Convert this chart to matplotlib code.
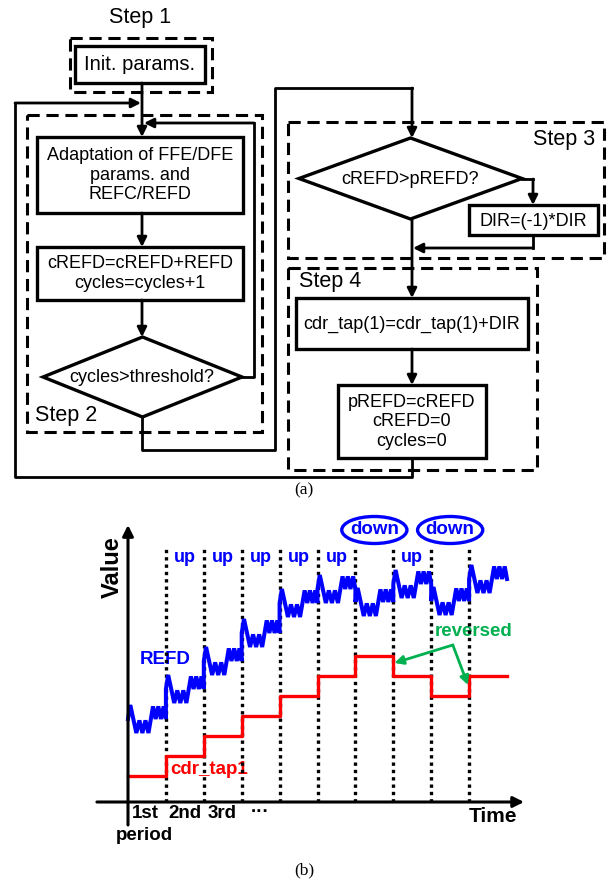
import matplotlib
matplotlib.use('Agg')
import matplotlib.pyplot as plt
from matplotlib.patches import Ellipse, Polygon, Rectangle

plt.rcParams['font.family'] = ['Liberation Sans', 'DejaVu Sans']

# ---- data for panel (b) ----
periods = list(range(10))                      # period index, 0 = 1st period
cdr_tap1 = [1.3, 2.3, 3.3, 4.3, 5.3, 6.3, 7.3, 6.3, 5.3, 6.3]
refd_top = [4.85, 6.35, 7.75, 9.15, 10.65, 11.35, 10.7, 11.6, 10.75, 11.85]
refd_swing = 1.4
# shape of the REFD ripple inside one period (fraction of period, depth below top)
ripple_t = [0.0, 0.06, 0.22, 0.30, 0.38, 0.46, 0.54, 0.66, 0.73, 0.80, 0.87, 0.94, 1.0]
ripple_d = [0.5, 0.0, 1.0, 0.55, 1.0, 0.55, 1.0, 0.05, 0.5, 0.05, 0.5, 0.05, 0.5]
direction = ['', 'up', 'up', 'up', 'up', 'up', 'down', 'up', 'down', '']
tick_names = ['1st', '2nd', '3rd', '···']

BLUE = '#0000FF'
RED = '#FF0000'
GREEN = '#00B050'

fig = plt.figure(figsize=(6.09, 8.83), dpi=100)
fig.patch.set_facecolor('white')

# full-figure axes in pixel units for the flowchart
ax = fig.add_axes([0, 0, 1, 1])
ax.set_xlim(0, 609)
ax.set_ylim(883, 0)
ax.axis('off')

LW = 2.0
FS = 13


def box(x0, y0, x1, y1, dashed=False):
    if dashed:
        r = Rectangle((x0, y0), x1 - x0, y1 - y0, fill=False, lw=2.2,
                      ec='black', linestyle=(0, (4, 2.2)))
    else:
        r = Rectangle((x0, y0), x1 - x0, y1 - y0, fill=False, lw=LW + 0.4, ec='black')
    ax.add_patch(r)


def diamond(cx, cy, w, h):
    pts = [(cx, cy - h / 2), (cx + w / 2, cy), (cx, cy + h / 2), (cx - w / 2, cy)]
    ax.add_patch(Polygon(pts, closed=True, fill=False, lw=LW + 0.4, ec='black'))


def route(pts, arrow=True):
    xs = [p[0] for p in pts]
    ys = [p[1] for p in pts]
    if arrow:
        ax.plot(xs[:-1], ys[:-1], color='black', lw=LW, solid_capstyle='projecting')
        ax.annotate('', xy=pts[-1], xytext=pts[-2],
                    arrowprops=dict(arrowstyle='-|>', color='black', lw=LW,
                                    mutation_scale=14, shrinkA=0, shrinkB=0))
    else:
        ax.plot(xs, ys, color='black', lw=LW, solid_capstyle='projecting')


# Step 1
ax.text(140, 18, 'Step 1', ha='center', va='center', fontsize=15.5)
box(70, 38, 212, 92, dashed=True)
box(75, 46, 205, 83)
ax.text(140, 64.5, 'Init. params.', ha='center', va='center', fontsize=14.5)
route([(142, 83), (142, 137)])

# Step 2
box(27, 115, 262, 432, dashed=True)
box(37, 137, 243, 213)
ax.text(140, 175, 'Adaptation of FFE/DFE\nparams. and\nREFC/REFD', ha='center',
        va='center', fontsize=FS, linespacing=1.2)
route([(142, 213), (142, 247)])
box(37, 247, 243, 300)
ax.text(140, 273.5, 'cREFD=cREFD+REFD\ncycles=cycles+1', ha='center', va='center',
        fontsize=FS, linespacing=1.2)
route([(142, 300), (142, 337)])
diamond(142.5, 377, 199, 80)
ax.text(142, 378, 'cycles>threshold?', ha='center', va='center', fontsize=FS)
ax.text(35, 415, 'Step 2', ha='left', va='center', fontsize=15.5)
route([(242, 377), (254, 377), (254, 123), (144, 123)])
route([(142, 417), (142, 450), (275, 450), (275, 88), (412, 88), (412, 138)])

# Step 3
box(288, 122, 604, 258, dashed=True)
ax.text(595, 140, 'Step 3', ha='right', va='center', fontsize=15.5)
diamond(410.5, 178.5, 223, 81)
ax.text(410, 180, 'cREFD>pREFD?', ha='center', va='center', fontsize=FS)
route([(522, 179), (533, 179), (533, 205)])
box(469, 205, 598, 235)
ax.text(533, 221, 'DIR=(-1)*DIR', ha='center', va='center', fontsize=FS)
route([(533, 235), (533, 248), (413, 248)])
route([(412, 219), (412, 298)])

# Step 4
box(288, 268, 537, 470, dashed=True)
ax.text(299, 282, 'Step 4', ha='left', va='center', fontsize=15.5)
box(296, 298, 528, 349)
ax.text(412, 324, 'cdr_tap(1)=cdr_tap(1)+DIR', ha='center', va='center', fontsize=FS)
route([(412, 349), (412, 385)])
box(338, 385, 486, 458)
ax.text(412, 422, 'pREFD=cREFD\ncREFD=0\ncycles=0', ha='center', va='center',
        fontsize=FS, linespacing=1.2)
route([(412, 458), (412, 477), (15, 477), (15, 103), (141, 103)])

ax.text(304, 490, '(a)', ha='center', va='center', fontsize=12.5,
        family=['Liberation Serif', 'DejaVu Serif'])
ax.text(304, 870, '(b)', ha='center', va='center', fontsize=12.5,
        family=['Liberation Serif', 'DejaVu Serif'])

# ---- panel (b): time diagram ----
px_x, px_y = 37.9, 20.0       # pixels per data unit
x0_px, y0_px = 128, 802        # origin in pixels
L, R, T, B = 90, 530, 515, 850
bx = fig.add_axes([L / 609, (883 - B) / 883, (R - L) / 609, (B - T) / 883])
bx.set_xlim((L - x0_px) / px_x, (R - x0_px) / px_x)
bx.set_ylim((y0_px - B) / px_y, (y0_px - T) / px_y)
bx.axis('off')
bx.patch.set_alpha(0)

# axes with arrows
bx.annotate('', xy=(10.45, 0), xytext=(-0.82, 0),
            arrowprops=dict(arrowstyle='-|>', color='black', lw=2.2,
                            mutation_scale=16, shrinkA=0, shrinkB=0))
bx.annotate('', xy=(0, 13.85), xytext=(0, -1.15),
            arrowprops=dict(arrowstyle='-|>', color='black', lw=2.2,
                            mutation_scale=16, shrinkA=0, shrinkB=0))

# dotted period boundaries
for k in periods[1:]:
    bx.plot([k, k], [0, 12.7], color='black', lw=2.4, linestyle=(0, (1, 1.2)))

# REFD ripple
rx, ry = [], []
for k in periods:
    for t, d in zip(ripple_t, ripple_d):
        rx.append(k + t)
        ry.append(refd_top[k] - d * refd_swing)
bx.plot(rx, ry, color=BLUE, lw=2.9, solid_joinstyle='miter')

# cdr_tap1 staircase
bx.step(periods + [10], cdr_tap1 + [cdr_tap1[-1]], where='post', color=RED, lw=2.4)

# direction labels
for k, d in enumerate(direction):
    if d == 'up':
        bx.text(k + 0.5, 12.25, 'up', ha='center', va='center', fontsize=13,
                fontweight='bold', color=BLUE)
    elif d == 'down':
        bx.text(k + 0.5, 13.6, 'down', ha='center', va='center', fontsize=13.5,
                fontweight='bold', color=BLUE)
        bx.add_patch(Ellipse((k + 0.5, 13.6), 1.72, 1.35, fill=False, ec=BLUE,
                             lw=2.4, clip_on=False))

ax.text(140, 659, 'REFD', ha='left', va='center', fontsize=13.5,
        fontweight='bold', color=BLUE)
ax.text(170, 770, 'cdr_tap1', ha='left', va='center', fontsize=13.5,
        fontweight='bold', color=RED)
ax.text(435, 631, 'reversed', ha='left', va='center', fontsize=13.5,
        fontweight='bold', color=GREEN)
for end in [(7.03, 6.95), (8.97, 5.85)]:
    bx.annotate('', xy=end, xytext=(8.57, 7.85),
                arrowprops=dict(arrowstyle='-|>', color=GREEN, lw=2.0,
                                mutation_scale=13, shrinkA=0, shrinkB=0))

ax.text(112, 567, 'Value', ha='center', va='center', rotation=90, fontsize=17,
        fontweight='bold')
ax.text(493, 817, 'Time', ha='center', va='center', fontsize=15, fontweight='bold')
for xc, name in zip([145, 185, 222, 260], tick_names):
    ax.text(xc, 813, name, ha='center', va='center', fontsize=13.5, fontweight='bold')
ax.text(144, 835, 'period', ha='center', va='center', fontsize=13.5, fontweight='bold')

fig.savefig('out.png', dpi=100, facecolor='white')
